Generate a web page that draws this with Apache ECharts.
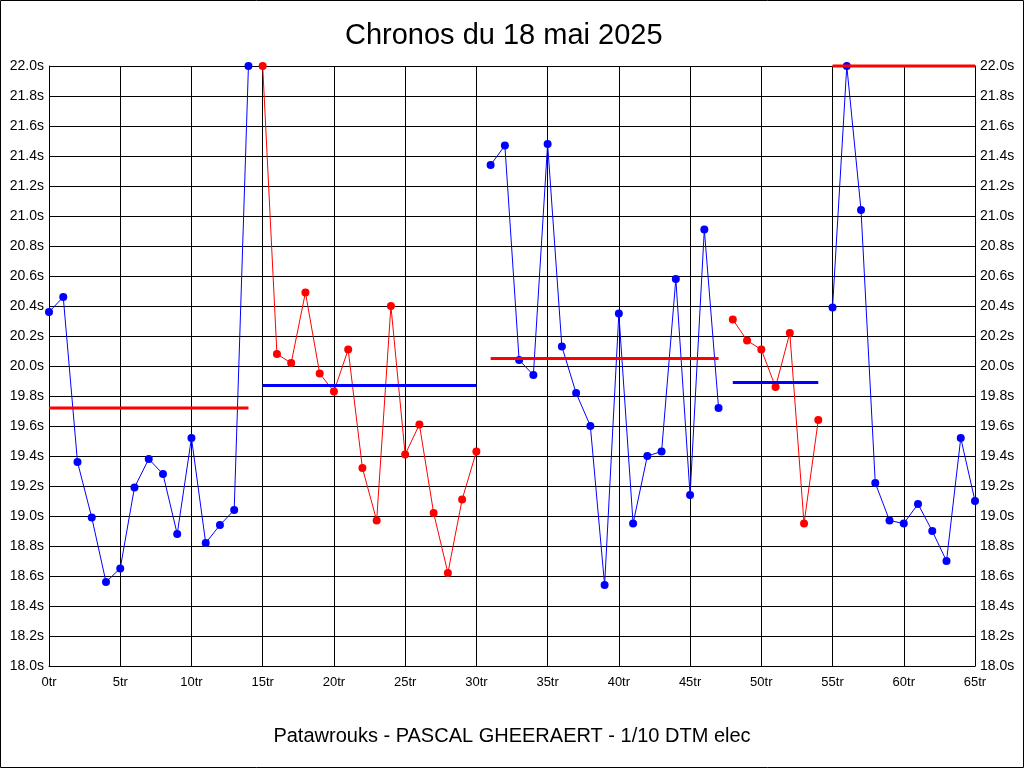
<!DOCTYPE html>
<html lang="fr">
<head>
    <meta charset="UTF-8">
    <title>Chronos du 18 mai 2025</title>
    <script src="https://cdn.jsdelivr.net/npm/echarts@6/dist/echarts.min.js"></script>
    <style>
        body { margin: 0; padding: 0; background: #fff; }
        #chart { width: 1024px; height: 768px; }
    </style>
</head>
<body>
    <div id="chart"></div>
    <script>
        // tours de départ de chaque relais
        var stintStart = [0, 15, 31, 48, 55];

        // chronos par tour (s), un tableau par relais
        var stint1 = [20.36, 20.46, 19.36, 18.99, 18.56, 18.65, 19.19, 19.38, 19.28, 18.88, 19.52, 18.82, 18.94, 19.04, 22.0];
        var stint2 = [22.0, 20.08, 20.02, 20.49, 19.95, 19.83, 20.11, 19.32, 18.97, 20.40, 19.41, 19.61, 19.02, 18.62, 19.11, 19.43];
        var stint3 = [21.34, 21.47, 20.04, 19.94, 21.48, 20.13, 19.82, 19.60, 18.54, 20.35, 18.95, 19.40, 19.43, 20.58, 19.14, 20.91, 19.72];
        var stint4 = [20.31, 20.17, 20.11, 19.86, 20.22, 18.95, 19.64];
        var stint5 = [20.39, 22.0, 21.04, 19.22, 18.97, 18.95, 19.08, 18.90, 18.70, 19.52, 19.10];

        // moyenne de chaque relais
        var stintAvg = [19.72, 19.87, 20.05, 19.89, 22.0];

        var stints = [stint1, stint2, stint3, stint4, stint5];
        var colors = ['#0000ff', '#ff0000'];
        var font = "'Liberation Sans', Arial, sans-serif";

        var series = [];
        stints.forEach(function (laps, k) {
            var c = colors[k % 2];
            var avgC = colors[(k + 1) % 2];
            var start = stintStart[k];
            var end = start + laps.length - 1;
            series.push({
                type: 'line',
                data: laps.map(function (v, i) { return [start + i, v]; }),
                symbol: 'circle',
                symbolSize: 8,
                clip: false,
                lineStyle: { color: c, width: 1 },
                itemStyle: { color: c },
                z: 2
            });
            series.push({
                type: 'line',
                data: [[start, stintAvg[k]], [end, stintAvg[k]]],
                symbol: 'none',
                clip: false,
                lineStyle: { color: avgC, width: 3 },
                z: 3
            });
        });

        var yAxisBase = {
            type: 'value',
            min: 18,
            max: 22,
            interval: 0.2,
            axisLine: { show: true, lineStyle: { color: '#000' } },
            axisTick: { show: false },
            splitLine: { show: true, lineStyle: { color: '#000', width: 1 } },
            axisLabel: {
                color: '#000',
                fontSize: 14,
                fontFamily: font,
                margin: 5,
                formatter: function (v) { return v.toFixed(1) + 's'; }
            }
        };

        var chart = echarts.init(document.getElementById('chart'));
        chart.setOption({
            animation: false,
            title: [{
                text: 'Chronos du 18 mai 2025',
                left: 340,
                top: 16,
                textStyle: { fontSize: 29, fontWeight: 'normal', color: '#000', fontFamily: font }
            }, {
                text: 'Patawrouks - PASCAL GHEERAERT - 1/10 DTM elec',
                left: 'center',
                top: 721,
                textStyle: { fontSize: 20, fontWeight: 'normal', color: '#000', fontFamily: font }
            }],
            graphic: [{
                type: 'rect',
                shape: { x: 0.5, y: 0.5, width: 1023, height: 767 },
                style: { fill: 'none', stroke: '#000', lineWidth: 1 },
                silent: true
            }],
            grid: { left: 49, right: 49, top: 66, bottom: 102 },
            xAxis: {
                type: 'value',
                min: 0,
                max: 65,
                interval: 5,
                axisLine: { show: true, lineStyle: { color: '#000' } },
                axisTick: { show: false },
                splitLine: { show: true, lineStyle: { color: '#000', width: 1 } },
                axisLabel: {
                    color: '#000',
                    fontSize: 13,
                    fontFamily: font,
                    margin: 10,
                    formatter: function (v) { return v + 'tr'; }
                }
            },
            yAxis: [
                Object.assign({}, yAxisBase, { position: 'left' }),
                Object.assign({}, yAxisBase, { position: 'right', splitLine: { show: false } })
            ],
            series: series
        });
    </script>
</body>
</html>
